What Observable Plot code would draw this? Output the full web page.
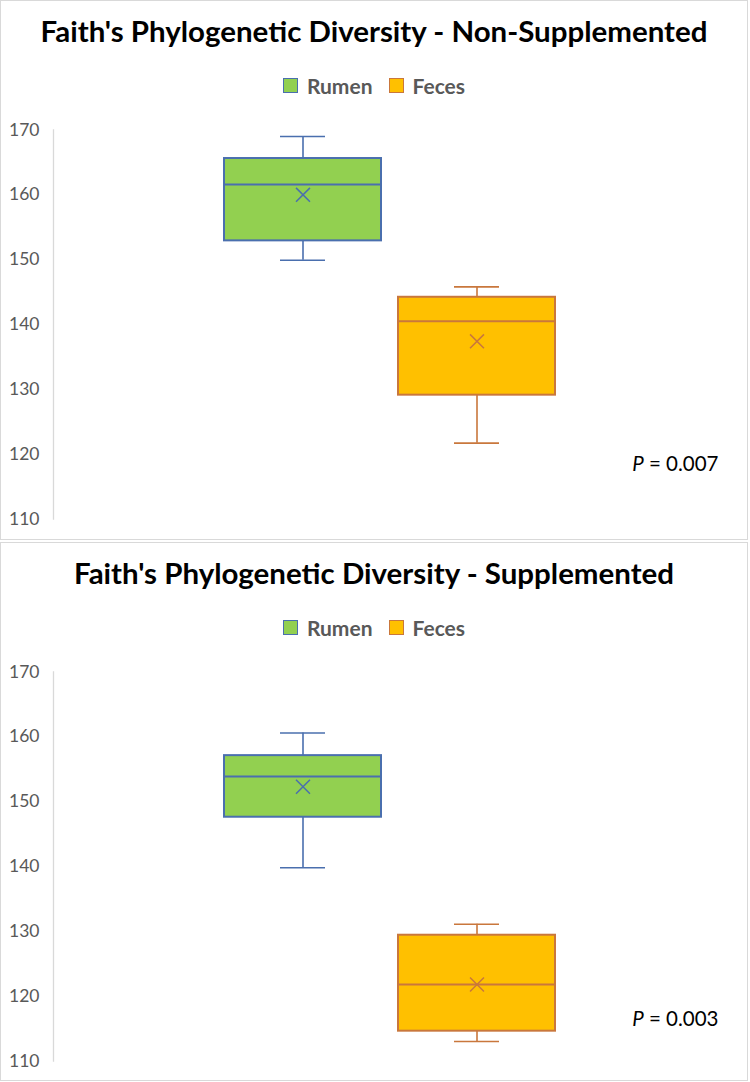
<!DOCTYPE html>
<html>
<head>
<meta charset="utf-8">
<script src="https://cdn.jsdelivr.net/npm/d3@7"></script>
<script src="https://cdn.jsdelivr.net/npm/@observablehq/plot@0.6"></script>
<style>
  html, body { margin: 0; padding: 0; background: #fff; }
  body { width: 750px; height: 1082px; position: relative; font-family: Lato, "Open Sans", sans-serif; }
  .panel { position: absolute; left: 0; width: 748px; box-sizing: border-box; border: 1px solid #d9d9d9; background: #fff; }
  .title { position: absolute; left: 0; right: 0; top: 11px; height: 37px; line-height: 37px; text-align: center; white-space: nowrap; }
  .title span { font-weight: 700; color: #000; font-size: 26px; display: inline-block; }
  .legend { position: absolute; left: 0; right: 0; top: 71px; height: 26px; display: flex; justify-content: center; align-items: center; font-weight: 700; font-size: 21px; color: #595959; }
  .legend .item { display: flex; align-items: center; margin: 0 8px; }
  .legend .sw { width: 13px; height: 13px; border: 1.5px solid; margin-right: 9px; }
  .chart { position: absolute; left: 0; top: 109px; }
</style>
</head>
<body>
<script>
// ---- data ----
const categories = ["Rumen", "Feces"];
const panelTitles = ["Faith's Phylogenetic Diversity - Non-Supplemented", "Faith's Phylogenetic Diversity - Supplemented"];
const yTicks = [110, 120, 130, 140, 150, 160, 170];
const pValues = ["0.007", "0.003"];

// Non-supplemented (Rumen, Feces)
const nsMin    = [149.9, 121.7];
const nsQ1     = [152.9, 129.1];
const nsMedian = [161.6, 140.5];
const nsMean   = [160.0, 137.4];
const nsQ3     = [165.6, 144.2];
const nsMax    = [169.0, 145.8];

// Supplemented (Rumen, Feces)
const sMin    = [139.8, 113.0];
const sQ1     = [147.6, 114.6];
const sMedian = [153.9, 121.8];
const sMean   = [152.3, 121.8];
const sQ3     = [157.1, 129.4];
const sMax    = [160.6, 131.1];

// ---- styles ----
const fills = ["#92D050", "#FFC000"];
const strokes = ["#4A6FAE", "#C9773C"];
const fontStack = 'Lato, "Open Sans", sans-serif';

function chart(min, q1, median, mean, q3, max, pValue, pDy) {
  const rows = categories.map((c, i) => ({cat: c, min: min[i], q1: q1[i], median: median[i], mean: mean[i], q3: q3[i], max: max[i]}));
  const marks = [
    Plot.frame({anchor: "left", stroke: "#d9d9d9", strokeWidth: 1.3}),
    Plot.axisY({ticks: yTicks, tickSize: 0, tickPadding: 14, label: null, fill: "#595959"})
  ];
  categories.forEach((c, i) => {
    const d = [rows[i]];
    const s = strokes[i], f = fills[i];
    marks.push(
      Plot.ruleX(d, {x: "cat", y1: "min", y2: "q1", stroke: s, strokeWidth: 1.6}),
      Plot.ruleX(d, {x: "cat", y1: "q3", y2: "max", stroke: s, strokeWidth: 1.6}),
      Plot.tickY(d, {x: "cat", y: "min", stroke: s, strokeWidth: 1.6, inset: 56}),
      Plot.tickY(d, {x: "cat", y: "max", stroke: s, strokeWidth: 1.6, inset: 56}),
      Plot.barY(d, {x: "cat", y1: "q1", y2: "q3", fill: f, stroke: s, strokeWidth: 2}),
      Plot.tickY(d, {x: "cat", y: "median", stroke: s, strokeWidth: 2}),
      Plot.dot(d, {x: "cat", y: "mean", symbol: "times", r: 6.4, stroke: s, strokeWidth: 1.5})
    );
  });
  marks.push(Plot.text([`P = ${pValue}`], {frameAnchor: "bottom-right", textAnchor: "end", dy: pDy, fill: "#000", fontSize: 20.5, className: "pval"}));
  const svg = Plot.plot({
    width: 746,
    height: 430,
    marginLeft: 52,
    marginRight: 29,
    marginTop: 19.5,
    marginBottom: 21.5,
    x: {type: "band", domain: categories, range: [222, 555], paddingInner: 0.097, paddingOuter: 0, axis: null},
    y: {domain: [110, 170], axis: null},
    style: {fontFamily: fontStack, fontSize: "17.5px", color: "#595959", background: "transparent", overflow: "visible"},
    marks
  });
  // italic P
  svg.querySelectorAll(".pval text").forEach(t => {
    const txt = t.textContent;
    t.textContent = "";
    const ns = "http://www.w3.org/2000/svg";
    const it = document.createElementNS(ns, "tspan");
    it.setAttribute("font-style", "italic");
    it.textContent = txt.slice(0, 1);
    t.appendChild(it);
    t.appendChild(document.createTextNode(txt.slice(1)));
  });
  return svg;
}

function panel(top, height, title, svg) {
  const div = document.createElement("div");
  div.className = "panel";
  div.style.top = top + "px";
  div.style.height = height + "px";
  const t = document.createElement("div");
  t.className = "title";
  const span = document.createElement("span");
  span.textContent = title;
  t.appendChild(span);
  div.appendChild(t);
  const lg = document.createElement("div");
  lg.className = "legend";
  categories.forEach((c, i) => {
    const it = document.createElement("div");
    it.className = "item";
    const sw = document.createElement("div");
    sw.className = "sw";
    sw.style.background = fills[i];
    sw.style.borderColor = strokes[i];
    const lab = document.createElement("span");
    lab.textContent = c;
    it.appendChild(sw);
    it.appendChild(lab);
    lg.appendChild(it);
  });
  div.appendChild(lg);
  const holder = document.createElement("div");
  holder.className = "chart";
  holder.appendChild(svg);
  div.appendChild(holder);
  document.body.appendChild(div);
  return span;
}

const s1 = panel(0, 540, panelTitles[0], chart(nsMin, nsQ1, nsMedian, nsMean, nsQ3, nsMax, pValues[0], -48.5));
const s2 = panel(542, 539, panelTitles[1], chart(sMin, sQ1, sMedian, sMean, sQ3, sMax, pValues[1], -35.5));

// fit title 1 to reference width, apply the same size to title 2
const w1 = s1.getBoundingClientRect().width;
const fs = 26 * 667 / w1;
s1.style.fontSize = fs + "px";
s2.style.fontSize = fs + "px";
</script>
</body>
</html>
